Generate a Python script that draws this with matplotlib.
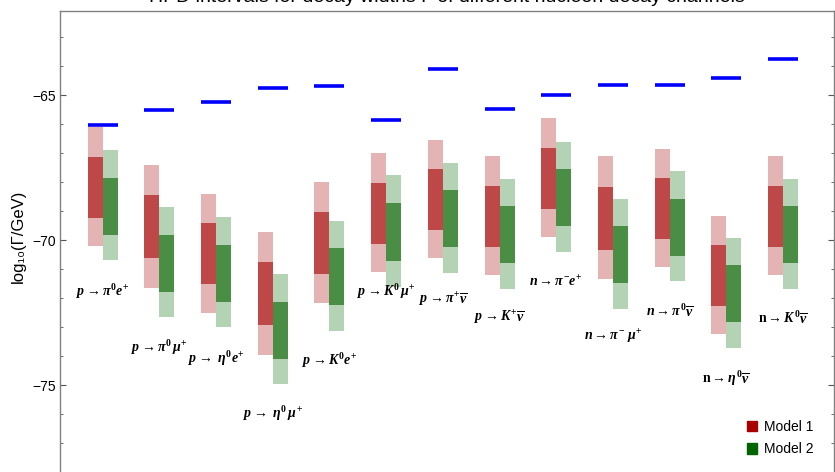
import matplotlib
matplotlib.use("Agg")
import matplotlib.pyplot as plt
from matplotlib.patches import Patch
from matplotlib.ticker import MultipleLocator, NullLocator
import numpy as np

plt.rcParams['font.family'] = ['Liberation Sans', 'DejaVu Sans']
plt.rcParams['mathtext.fontset'] = 'custom'
plt.rcParams['mathtext.it'] = 'Liberation Serif:italic:bold'
plt.rcParams['mathtext.rm'] = 'Liberation Serif:bold'
plt.rcParams['mathtext.bf'] = 'Liberation Serif:bold'

# decay channels
channels = [
    r'$p \to \pi^{\mathit{0}} e^{+}$',
    r'$p \to \pi^{\mathit{0}}\,\mu^{+}$',
    r'$p \to\ \eta^{\mathit{0}} e^{+}$',
    r'$p \to\ \eta^{\mathit{0}}\,\mu^{+}$',
    r'$p \to K^{\mathit{0}} e^{+}$',
    r'$p \to K^{\mathit{0}}\,\mu^{+}$',
    r'$p \to \pi^{+}\overline{\nu}$',
    r'$p \to K^{+}\overline{\nu}$',
    r'$n \to \pi^{-} e^{+}$',
    r'$n \to \pi^{-}\ \mu^{+}$',
    r'$n \to \pi^{\mathit{0}}\overline{\nu}$',
    r'$\mathrm{n} \to \eta^{\mathit{0}}\overline{\nu}$',
    r'$\mathrm{n} \to K^{\mathit{0}}\overline{\nu}$',
]

# experimental upper bounds, log10(Gamma/GeV)
limit = [-66.04, -65.52, -65.24, -64.75, -64.70, -65.87, -64.11,
         -65.48, -64.98, -64.66, -64.66, -64.41, -63.75]

# model 1 HPD intervals (outer / inner)
m1_outer_hi = [-66.09, -67.41, -68.41, -69.72, -68.00, -67.00, -66.55,
               -67.10, -65.79, -67.10, -66.86, -69.17, -67.10]
m1_outer_lo = [-70.20, -71.64, -72.51, -73.97, -72.17, -71.10, -70.62,
               -71.21, -69.90, -71.34, -70.93, -73.24, -71.21]
m1_inner_hi = [-67.14, -68.45, -69.41, -70.76, -69.03, -68.03, -67.55,
               -68.14, -66.83, -68.17, -67.86, -70.17, -68.14]
m1_inner_lo = [-69.23, -70.61, -71.51, -72.93, -71.17, -70.14, -69.66,
               -70.24, -68.93, -70.34, -69.97, -72.28, -70.24]

# model 2 HPD intervals (outer / inner)
m2_outer_hi = [-66.90, -68.86, -69.21, -71.17, -69.34, -67.76, -67.34,
               -67.90, -66.62, -68.59, -67.62, -69.93, -67.90]
m2_outer_lo = [-70.68, -72.64, -72.99, -74.97, -73.14, -71.62, -71.14,
               -71.69, -70.41, -72.38, -71.41, -73.72, -71.69]
m2_inner_hi = [-67.86, -69.83, -70.17, -72.14, -70.28, -68.72, -68.28,
               -68.83, -67.55, -69.52, -68.59, -70.86, -68.83]
m2_inner_lo = [-69.83, -71.79, -72.14, -74.10, -72.24, -70.72, -70.24,
               -70.79, -69.52, -71.48, -70.55, -72.83, -70.79]

# where each channel name sits
label_y = [-71.79, -73.72, -74.07, -75.97, -74.17, -71.79, -72.07,
           -72.69, -71.45, -73.34, -72.45, -74.76, -72.69]

red_light, red_dark = '#e4b4b4', '#be4848'
green_light, green_dark = '#b4d2b4', '#4a8e46'

fig = plt.figure(figsize=(8.35, 4.72), dpi=100)
ax = fig.add_axes([60 / 835, 1 - 530 / 472, 774 / 835, 519 / 472])

x = np.arange(len(channels))
w = 0.265

def draw(lo, hi, xpos, color):
    lo, hi = np.array(lo), np.array(hi)
    ax.bar(xpos, hi - lo, bottom=lo, width=w, align='edge', color=color,
           linewidth=0)

draw(m1_outer_lo, m1_outer_hi, x - w, red_light)
draw(m1_inner_lo, m1_inner_hi, x - w, red_dark)
draw(m2_outer_lo, m2_outer_hi, x, green_light)
draw(m2_inner_lo, m2_inner_hi, x, green_dark)
ax.hlines(limit, x - w, x + w, colors='#0000ff', linewidth=2.6)

for xi, yi, name in zip(x, label_y, channels):
    ax.text(xi, yi, name, ha='center', va='center', fontsize=10)

ax.set_xlim(-0.753, 12.90)
ax.set_ylim(-80, -62.10)
ax.xaxis.set_major_locator(NullLocator())
ax.yaxis.set_major_locator(MultipleLocator(5))
ax.yaxis.set_minor_locator(MultipleLocator(1))
ax.tick_params(axis='y', which='major', direction='in', length=4,
               labelsize=10, color='#555555', right=True, pad=3)
ax.tick_params(axis='y', which='minor', direction='in', length=2.5,
               color='#555555', right=True)
ax.set_yticks([-65, -70, -75])
ax.set_yticklabels(['\u221265', '\u221270', '\u221275'])
for s in ax.spines.values():
    s.set_color('#808080')
    s.set_linewidth(1.0)

fig.text(18 / 835, 1 - 236 / 472, 'log\u2081\u2080(\u0393/GeV)', rotation=90,
         ha='center', va='center', fontsize=12)

fig.text(447 / 835, 1 - 2.5 / 472,
         'HPD intervals for decay widths \u0393 of different nucleon decay channels',
         ha='center', va='baseline', fontsize=14)

handles = [Patch(color='#a80000', label='Model 1'),
           Patch(color='#006400', label='Model 2')]
ax.legend(handles=handles, loc='upper left',
          bbox_to_anchor=(740 / 835, 1 - 413 / 472),
          bbox_transform=fig.transFigure, frameon=False, fontsize=10,
          handlelength=0.75, handleheight=0.75, handletextpad=0.5,
          labelspacing=0.6, borderpad=0)

fig.savefig('out.png', dpi=100)
